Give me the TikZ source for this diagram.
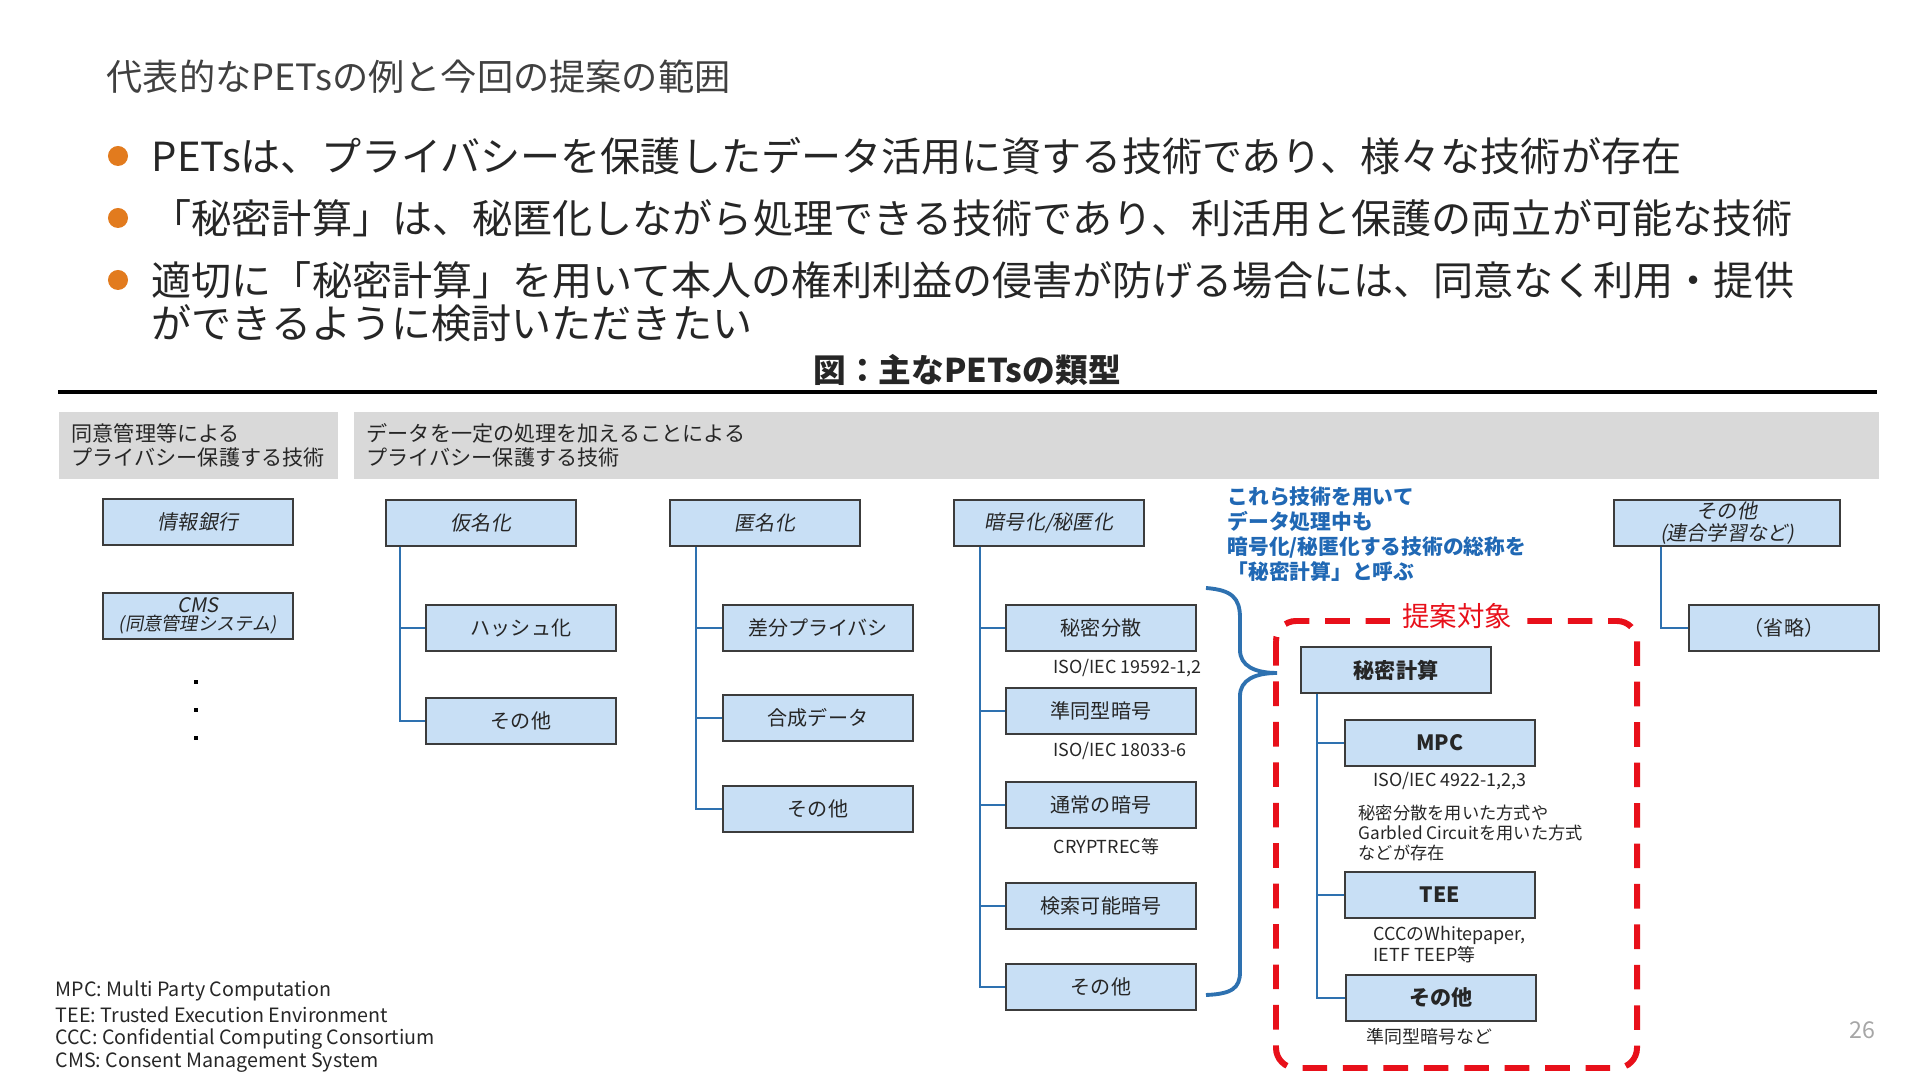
\documentclass[tikz,border=0pt]{standalone}
\usepackage{fontspec}
\setmainfont{Noto Sans CJK JP}
\newfontfamily\jpit{Noto Sans CJK JP}[FakeSlant=0.18]
\usepackage{tikz}
\usepackage{xcolor}
\definecolor{inkgray}{HTML}{262626}
\definecolor{titlegray}{HTML}{404040}
\definecolor{bulorange}{HTML}{E27B1E}
\definecolor{hdrgray}{HTML}{D9D9D9}
\definecolor{boxfill}{HTML}{C8DFF5}
\definecolor{boxline}{HTML}{3C3C3C}
\definecolor{linkblue}{HTML}{2E71B0}
\definecolor{calcblue}{HTML}{2068B4}
\definecolor{propred}{HTML}{E8101A}
\definecolor{pagegray}{HTML}{A6A6A6}

\tikzset{
  pbox/.style={draw=boxline, fill=boxfill, line width=0.5pt, minimum width=1.9cm,
    minimum height=0.46cm, inner sep=0pt, align=center, font=\fontsize{5.7}{7}\selectfont},
  pboxit/.style={pbox, font=\jpit\fontsize{5.7}{6.1}\selectfont},
  pboxbf/.style={pbox, font=\bfseries\fontsize{6}{7}\selectfont},
  branch/.style={draw=linkblue, line width=0.6pt},
  note/.style={anchor=west, inner sep=0pt, align=left, font=\fontsize{5.1}{6}\selectfont},
  hdr/.style={fill=hdrgray, anchor=north west, minimum height=0.63cm, inner xsep=0.13cm,
    align=left, font=\fontsize{6}{6.8}\selectfont},
  bullettxt/.style={anchor=west, inner sep=0pt, font=\fontsize{11.4}{13}\selectfont}
}

\begin{document}
\begin{tikzpicture}[x=0.01cm, y=-0.01cm, text=inkgray]
  \useasboundingbox (0,0) rectangle (1920,1080);

  % slide title and bullets
  \node[anchor=west, inner sep=0pt, text=titlegray, font=\fontsize{10.3}{12}\selectfont] (pagetitle)
    at (106,77) {代表的なPETsの例と今回の提案の範囲};
  \foreach \i/\y/\txt in {1/156/{PETsは、プライバシーを保護したデータ活用に資する技術であり、様々な技術が存在},
      2/218/{「秘密計算」は、秘匿化しながら処理できる技術であり、利活用と保護の両立が可能な技術},
      3/280/{適切に「秘密計算」を用いて本人の権利利益の侵害が防げる場合には、同意なく利用・提供}}{
    \fill[bulorange] (118,\y) circle[radius=0.1cm];
    \node[bullettxt] (bul\i) at (151,\y) {\txt};
  }
  \node[bullettxt] (bul4) at (151,323) {ができるように検討いただきたい};

  % figure heading
  \node[font=\bfseries\fontsize{9.3}{11}\selectfont] (figtitle) at (967,370) {図：主なPETsの類型};
  \draw[line width=1.4pt] (58,392) -- (1877,392);
  \node[hdr, minimum width=2.79cm, text width=2.53cm] (hdrconsent) at (58,411)
    {同意管理等による\\プライバシー保護する技術};
  \node[hdr, minimum width=15.24cm, text width=14.98cm] (hdrprocess) at (353,411)
    {データを一定の処理を加えることによる\\プライバシー保護する技術};

  % consent column
  \node[pboxit] (infobank) at (198,522) {情報銀行};
  \node[pboxit] (cms) at (198,616) {CMS\\[-1pt]{\fontsize{5.2}{5.6}\selectfont(同意管理システム)}};
  \foreach \y in {682,710,738}
    \fill (194,\y-2) rectangle (198,\y+2);

  % pseudonymisation
  \node[pboxit] (kamei) at (481,523) {仮名化};
  \node[pbox] (hash) at (521,628) {ハッシュ化};
  \node[pbox] (kameiother) at (521,721) {その他};
  \foreach \c in {hash,kameiother}
    \draw[branch] (kamei.south west) ++(15,0) |- (\c.west);

  % anonymisation
  \node[pboxit] (tokumei) at (765,523) {匿名化};
  \node[pbox] (dp) at (818,628) {差分プライバシ};
  \node[pbox] (synth) at (818,718) {合成データ};
  \node[pbox] (tokumeiother) at (818,809) {その他};
  \foreach \c in {dp,synth,tokumeiother}
    \draw[branch] (tokumei.south west) ++(27,0) |- (\c.west);

  % encryption
  \node[pboxit] (crypt) at (1049,523) {暗号化/秘匿化};
  \node[pbox] (share) at (1101,628) {秘密分散};
  \node[pbox] (homo) at (1101,711) {準同型暗号};
  \node[pbox] (plain) at (1101,805) {通常の暗号};
  \node[pbox] (search) at (1101,906) {検索可能暗号};
  \node[pbox] (cryptother) at (1101,987) {その他};
  \foreach \c in {share,homo,plain,search,cryptother}
    \draw[branch] (crypt.south west) ++(27,0) |- (\c.west);
  \node[note] (isoshare) at (1053,668) {ISO/IEC 19592-1,2};
  \node[note] (isohomo) at (1053,751) {ISO/IEC 18033-6};
  \node[note] (cryptrec) at (1053,847) {CRYPTREC等};

  % brace and its caption
  \draw[linkblue, line width=1.1pt] (1206,588) .. controls (1232,590) and (1240,598) .. (1240,618)
    -- (1240,650) .. controls (1240,666) and (1255,673) .. (1277,673)
    .. controls (1255,673) and (1240,680) .. (1240,696)
    -- (1240,972) .. controls (1240,988) and (1232,994) .. (1206,995);
  \node[anchor=west, inner sep=0pt, align=left, text=calcblue, font=\bfseries\fontsize{5.9}{7.1}\selectfont]
    (calcnote) at (1227,534) {これら技術を用いて\\データ処理中も\\暗号化/秘匿化する技術の総称を\\「秘密計算」と呼ぶ};

  % proposal scope
  \draw[propred, line width=1.7pt, dash pattern=on 7pt off 4.5pt, rounded corners=0.2cm]
    (1276,621) rectangle (1637,1068);
  \node[fill=white, inner xsep=0.12cm, inner ysep=0pt, text=propred, font=\fontsize{7.8}{9}\selectfont]
    (proplabel) at (1457,616) {提案対象};
  \node[pboxbf] (secomp) at (1396,670) {秘密計算};
  \node[pboxbf] (mpc) at (1440,743) {MPC};
  \node[pboxbf] (tee) at (1440,895) {TEE};
  \node[pboxbf] (secother) at (1441,998) {その他};
  \foreach \c in {mpc,tee,secother}
    \draw[branch] (secomp.south west) ++(17,0) |- (\c.west);
  \node[note] (isompc) at (1373,781) {ISO/IEC 4922-1,2,3};
  \node[note, font=\fontsize{4.9}{5.8}\selectfont] (mpcnote) at (1358,833)
    {秘密分散を用いた方式や\\Garbled Circuitを用いた方式\\などが存在};
  \node[note] (teenote) at (1373,945) {CCCのWhitepaper,\\IETF TEEP等};
  \node[note] (secothernote) at (1366,1037) {準同型暗号など};

  % federated learning etc.
  \node[pboxit, minimum width=2.26cm] (fedlearn) at (1727,523) {その他\\(連合学習など)};
  \node[pbox] (omit) at (1784,628) {（省略）};
  \draw[branch] (fedlearn.south west) ++(48,0) |- (omit.west);

  % abbreviations and page number
  \foreach \i/\lab in {0/{MPC: Multi Party Computation}, 1/{TEE: Trusted Execution Environment},
      2/{CCC: Confidential Computing Consortium}, 3/{CMS: Consent Management System}}
    \node[anchor=west, inner sep=0pt, font=\fontsize{5.6}{6}\selectfont] (abbr\i) at (55,991+24*\i) {\lab};
  \node[text=pagegray, font=\fontsize{6.6}{8}\selectfont] (pagenum) at (1862,1030) {26};
\end{tikzpicture}
\end{document}
